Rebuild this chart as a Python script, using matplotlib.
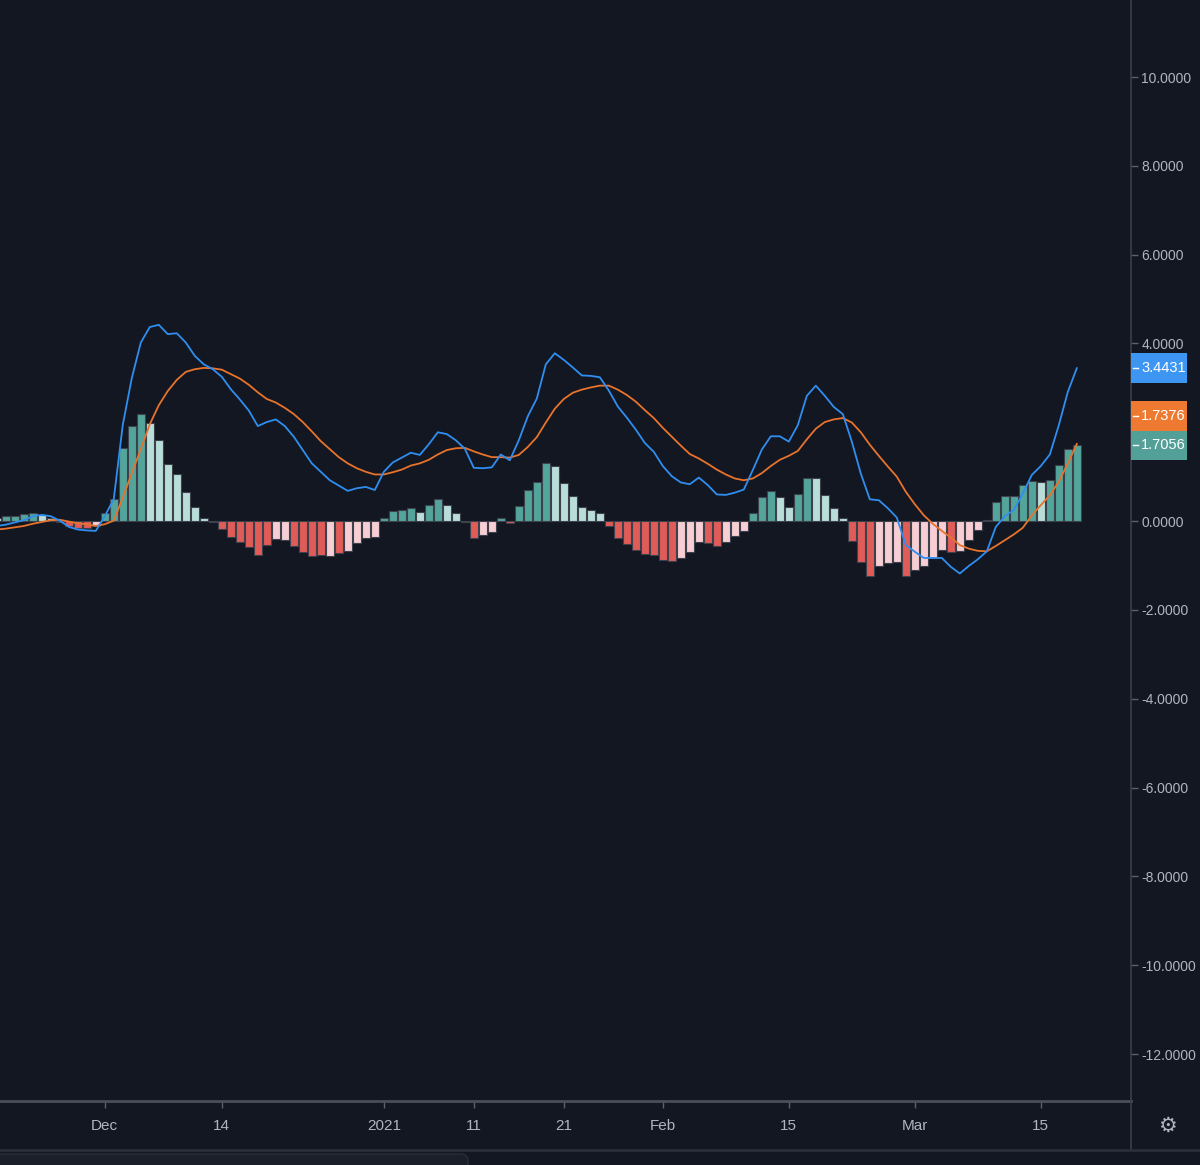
import numpy as np
import pandas as pd
import matplotlib
matplotlib.use('Agg')
import matplotlib.pyplot as plt
import matplotlib.dates as mdates
from matplotlib.patches import Rectangle, FancyBboxPatch
from matplotlib.lines import Line2D

# daily bars, Nov 19 2020 .. Mar 19 2021
dates = pd.date_range('2020-11-19', '2021-03-19', freq='D')

macd = [
    -0.11, -0.08, -0.03, 0.02, 0.11, 0.14, 0.11, 0.01, -0.13, -0.19, -0.21, -0.22,
    0.11, 0.50, 2.17, 3.22, 4.02, 4.37, 4.42, 4.21, 4.23, 4.02, 3.72, 3.53, 3.42,
    3.25, 2.97, 2.74, 2.49, 2.14, 2.23, 2.29, 2.14, 1.90, 1.60, 1.30, 1.11, 0.92,
    0.80, 0.68, 0.74, 0.77, 0.70, 1.11, 1.32, 1.43, 1.54, 1.49, 1.73, 2.00, 1.96,
    1.82, 1.63, 1.20, 1.19, 1.21, 1.50, 1.37, 1.82, 2.36, 2.76, 3.53, 3.78, 3.63,
    3.46, 3.28, 3.27, 3.24, 2.94, 2.58, 2.33, 2.06, 1.76, 1.56, 1.24, 1.01, 0.87,
    0.83, 0.98, 0.81, 0.60, 0.59, 0.64, 0.71, 1.15, 1.61, 1.91, 1.91, 1.79, 2.16,
    2.82, 3.05, 2.82, 2.57, 2.41, 1.79, 1.07, 0.49, 0.47, 0.29, 0.08, -0.54, -0.69,
    -0.83, -0.83, -0.83, -1.03, -1.18, -1.01, -0.86, -0.68, -0.13, 0.11, 0.25, 0.62,
    1.04, 1.24, 1.50, 2.16, 2.91, 3.4431,
]

signal = [
    -0.19, -0.17, -0.14, -0.11, -0.06, -0.02, 0.02, 0.03, -0.01, -0.05, -0.07, -0.11,
    -0.07, 0.01, 0.53, 1.08, 1.62, 2.18, 2.61, 2.93, 3.18, 3.36, 3.42, 3.45, 3.44,
    3.41, 3.31, 3.21, 3.07, 2.90, 2.75, 2.67, 2.55, 2.41, 2.23, 2.02, 1.80, 1.62,
    1.44, 1.30, 1.19, 1.11, 1.05, 1.05, 1.10, 1.16, 1.25, 1.30, 1.38, 1.50, 1.60,
    1.64, 1.65, 1.57, 1.50, 1.44, 1.44, 1.43, 1.49, 1.67, 1.89, 2.22, 2.53, 2.75,
    2.89, 2.96, 3.01, 3.05, 3.05, 2.96, 2.84, 2.69, 2.50, 2.32, 2.10, 1.90, 1.70,
    1.51, 1.41, 1.29, 1.16, 1.05, 0.96, 0.92, 0.96, 1.08, 1.24, 1.38, 1.47, 1.58,
    1.84, 2.08, 2.23, 2.29, 2.32, 2.22, 2.00, 1.72, 1.47, 1.23, 1.00, 0.66, 0.38,
    0.13, -0.06, -0.22, -0.37, -0.54, -0.62, -0.67, -0.68, -0.56, -0.43, -0.30, -0.15,
    0.13, 0.36, 0.58, 0.89, 1.30, 1.7376,
]

hist = [
    0.08, 0.105, 0.105, 0.165, 0.18, 0.14, 0.08, -0.03, -0.12, -0.15, -0.15, -0.10,
    0.18, 0.50, 1.65, 2.14, 2.41, 2.21, 1.82, 1.28, 1.06, 0.66, 0.31, 0.08, -0.02,
    -0.17, -0.35, -0.47, -0.59, -0.77, -0.53, -0.40, -0.43, -0.55, -0.69, -0.79, -0.77,
    -0.79, -0.71, -0.67, -0.49, -0.37, -0.36, 0.06, 0.22, 0.26, 0.30, 0.20, 0.36,
    0.50, 0.36, 0.18, -0.03, -0.38, -0.31, -0.24, 0.06, -0.05, 0.34, 0.70, 0.87,
    1.31, 1.25, 0.86, 0.56, 0.31, 0.25, 0.19, -0.12, -0.39, -0.52, -0.64, -0.75,
    -0.77, -0.87, -0.89, -0.84, -0.70, -0.46, -0.49, -0.57, -0.48, -0.34, -0.22, 0.18,
    0.54, 0.68, 0.54, 0.32, 0.60, 0.97, 0.97, 0.58, 0.29, 0.08, -0.44, -0.91, -1.23,
    -1.00, -0.94, -0.93, -1.23, -1.10, -1.00, -0.82, -0.65, -0.69, -0.67, -0.42, -0.20,
    0.02, 0.44, 0.56, 0.56, 0.81, 0.91, 0.89, 0.93, 1.27, 1.62, 1.7056,
]

# g = rising above zero, l = falling above zero, r = falling below zero, p = rising below zero
hist_state = ('lggggllrrrrp' 'gggggllllllll' 'rrrrrrpprrrrprpppp' 'ggggl' 'ggll' 'rrpp' 'gr'
              'gggg' 'llllll' 'rrrrrrrr' 'ppp' 'rr' 'ppp' 'gggll' 'ggllll' 'rrr' 'ppp' 'r'
              'pppp' 'rp' 'pp' 'ggggg' 'g' 'lggggg')

tick_dates = ['2020-12-01', '2020-12-14', '2021-01-01', '2021-01-11', '2021-01-21',
              '2021-02-01', '2021-02-15', '2021-03-01', '2021-03-15']
tick_labels = ['Dec', '14', '2021', '11', '21', 'Feb', '15', 'Mar', '15']
# 2.0000 sits under the price labels in the original, so it is not shown
y_ticks = [10, 8, 6, 4, 0, -2, -4, -6, -8, -10, -12]

BG = '#131722'
TXT = '#b2b5be'
GRID_LINE = '#3b3f4a'
state_colors = {'g': '#53a59b', 'l': '#b9deda', 'r': '#e05c59', 'p': '#f7ced3'}

plt.rcParams['font.family'] = ['Liberation Sans', 'DejaVu Sans']

W, H = 1200, 1165
fig = plt.figure(figsize=(W / 100, H / 100), dpi=100, facecolor=BG)

ax_right = 1131
ax_bottom = 1101
ax = fig.add_axes([0, (H - ax_bottom) / H, ax_right / W, ax_bottom / H])
ax.set_facecolor(BG)

x = mdates.date2num(dates)
bar_colors = [state_colors[s] for s in hist_state]
ax.bar(x, hist, width=0.86, color=bar_colors, edgecolor='#3d414c', linewidth=0.8, zorder=2)
ax.plot(x, signal, color='#e8732c', lw=1.3, zorder=3)
ax.plot(x, macd, color='#2f8ef0', lw=1.3, zorder=4)

dec1 = mdates.date2num(pd.Timestamp('2020-12-01'))
ax.set_xlim(dec1 - 11.644, dec1 + 114.02)
ymin, ymax = -13.058, 11.734
ax.set_ylim(ymin, ymax)

# axes styling
for side in ['top', 'left']:
    ax.spines[side].set_visible(False)
ax.spines['right'].set_color(GRID_LINE)
ax.spines['right'].set_linewidth(1.2)
ax.spines['bottom'].set_color('#4a4e59')
ax.spines['bottom'].set_linewidth(2)

ax.yaxis.tick_right()
ax.set_yticks(y_ticks)
ax.set_yticklabels(['%.4f' % v if v >= 0 else '-%.4f' % abs(v) for v in y_ticks])
ax.tick_params(axis='y', colors='#5d606b', length=5, width=1, pad=2.5,
               labelcolor=TXT, labelsize=10)

ax.set_xticks(mdates.date2num(pd.to_datetime(tick_dates)))
ax.set_xticklabels(tick_labels)
ax.tick_params(axis='x', colors='#5d606b', length=5, width=1, pad=8,
               labelcolor=TXT, labelsize=11)


def fig_y(val):
    # data value -> pixel row from top
    return ax_bottom * (ymax - val) / (ymax - ymin)


# separator lines around the time scale
fig.add_artist(Line2D([ax_right / W, ax_right / W], [(H - 1150) / H, (H - ax_bottom) / H],
                      transform=fig.transFigure, color=GRID_LINE, lw=1.2))
fig.add_artist(Line2D([0, 1], [(H - 1150) / H, (H - 1150) / H],
                      transform=fig.transFigure, color='#2a2e39', lw=2))
fig.add_artist(FancyBboxPatch((-10 / W, -20 / H), 478 / W, 31 / H,
                              boxstyle='round,pad=0,rounding_size=0.006',
                              transform=fig.transFigure, facecolor='#1b1f2a',
                              edgecolor='#2a2e39', lw=1))

# last-value price labels
box_h = 29.5
teal_c = fig_y(hist[-1])
blue_c = fig_y(macd[-1])
orange_c = teal_c - box_h
labels = [(blue_c, '%.4f' % macd[-1], '#3d97f2'),
          (orange_c, '%.4f' % signal[-1], '#ee7a31'),
          (teal_c, '%.4f' % hist[-1], '#52a097')]
for yc, txt, col in labels:
    fig.add_artist(Rectangle((ax_right / W, (H - yc - box_h / 2) / H), 56 / W, box_h / H,
                             transform=fig.transFigure, facecolor=col, edgecolor='none'))
    fig.add_artist(Line2D([1133 / W, 1138 / W], [(H - yc) / H, (H - yc) / H],
                          transform=fig.transFigure, color='white', lw=1))
    fig.text(1141 / W, (H - yc) / H, txt, color='white', fontsize=10.5,
             ha='left', va='center')

fig.text(1167 / W, (H - 1126) / H, '\u2699', color=TXT, fontsize=15,
         ha='center', va='center', family='DejaVu Sans')

fig.savefig('out.png', dpi=100, facecolor=BG)
